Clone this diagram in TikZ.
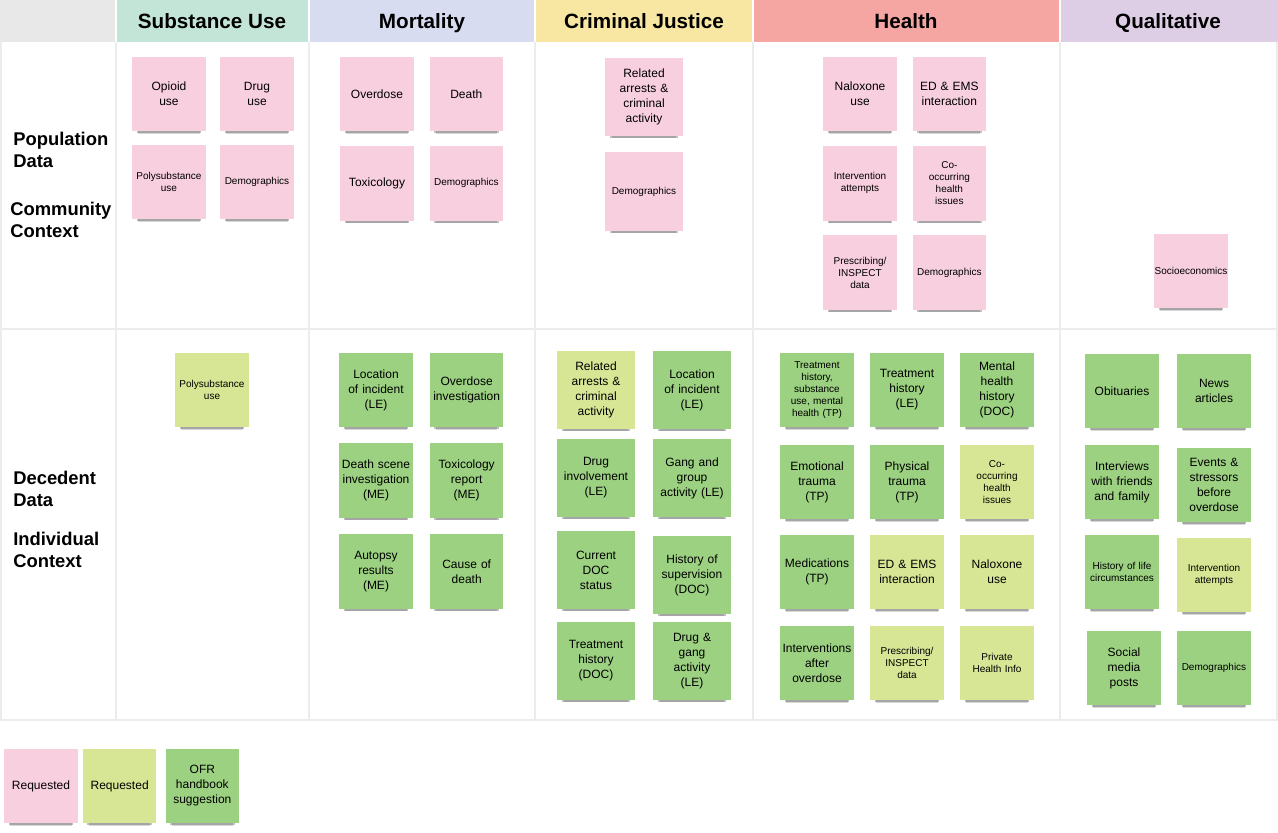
\documentclass[tikz,border=0pt]{standalone}
\usepackage{fontspec}
\setmainfont{Liberation Sans}
\usetikzlibrary{shadows}

\definecolor{notepink}{HTML}{F8CFDE}
\definecolor{notelime}{HTML}{D7E694}
\definecolor{notegreen}{HTML}{9CD181}
\definecolor{gridgray}{HTML}{ECECEC}
\definecolor{headgray}{HTML}{E8E8E8}
\definecolor{headmint}{HTML}{C3E5D8}
\definecolor{headblue}{HTML}{D7DCF0}
\definecolor{headyellow}{HTML}{F8E7A2}
\definecolor{headred}{HTML}{F5A6A3}
\definecolor{headlilac}{HTML}{DDCEE6}

\tikzset{
  note/.style={rectangle, minimum width=55pt, minimum height=56pt, text width=55pt,
    inner sep=0pt, align=center, font=\fontsize{9}{11.25}\selectfont,
    drop shadow={shadow xshift=0pt, shadow yshift=-7.5pt, shadow scale=0.84,
      fill=black!80, opacity=0.2},
    drop shadow={shadow xshift=0pt, shadow yshift=-5.5pt, shadow scale=0.88,
      fill=black!80, opacity=0.3}},
  pnote/.style={note, fill=notepink},
  lnote/.style={note, fill=notelime},
  gnote/.style={note, fill=notegreen},
  smalltext/.style={font=\fontsize{7.5}{9}\selectfont},
  bignote/.style={minimum width=58pt, minimum height=59pt, text width=58pt},
  head/.style={anchor=base, font=\bfseries\fontsize{15.5}{18}\selectfont},
  rowlabel/.style={anchor=west, align=left, inner sep=0pt,
    font=\bfseries\fontsize{13.8}{16.5}\selectfont}
}

\begin{document}
\begin{tikzpicture}[
            x = 0.75pt, y = -0.75pt, % pixel grid
            node distance = 67.5pt % distance between notes
        ]
	\useasboundingbox (0,0) rectangle (1278,832);

	% header row
	\fill[headgray] (0,0) rectangle (115,42);
	\fill[headmint] (117,0) rectangle (308,42);
	\fill[headblue] (310,0) rectangle (534,42);
	\fill[headyellow] (536,0) rectangle (752,42);
	\fill[headred] (754,0) rectangle (1059,42);
	\fill[headlilac] (1061,0) rectangle (1278,42);

	\node[head] (hsub) at (212,28) {Substance Use};
	\node[head] (hmort) at (422,28) {Mortality};
	\node[head] (hcrim) at (644,28) {Criminal Justice};
	\node[head] (hheal) at (906,28) {Health};
	\node[head] (hqual) at (1168,28) {Qualitative};

	% grid lines
	\draw[gridgray, line width=1.5pt] (1,42) -- (1,720) (1277,42) -- (1277,720);
	\foreach \x in {116,309,535,753,1060}
		\draw[gridgray, line width=1.5pt] (\x,42) -- (\x,720);
	\draw[gridgray, line width=1.5pt] (0,329) -- (1278,329) (0,720) -- (1278,720);

	% row labels
	\node[rowlabel] (popdata) at (13,150) {Population\\Data};
	\node[rowlabel] (community) at (10,220) {Community\\Context};
	\node[rowlabel] (decdata) at (13,489) {Decedent\\Data};
	\node[rowlabel] (individual) at (13,550) {Individual\\Context};

	% population data
	\begin{scope}[node distance=66pt]
	\node[pnote] (opioid) at (169,94) {Opioid\\use};
	\node[pnote] (druguse) [right of=opioid] {Drug\\use};
	\node[pnote, smalltext] (polyuse) [below of=opioid] {Polysubstance\\use};
	\node[pnote, smalltext] (sudemo) [right of=polyuse] {Demographics};
	\end{scope}

	\begin{scope}[node distance=67pt]
	\node[pnote] (overdose) at (377,94) {Overdose};
	\node[pnote] (death) [right of=overdose] {Death};
	\node[pnote] (toxicology) [below of=overdose] {Toxicology};
	\node[pnote, smalltext] (modemo) [right of=toxicology] {Demographics};
	\end{scope}

	\begin{scope}[node distance=71pt]
	\node[pnote, bignote] (arrests) at (644,97) {Related\\arrests \&\\criminal\\activity};
	\node[pnote, bignote, smalltext] (cjdemo) [below of=arrests] {Demographics};
	\end{scope}

	\begin{scope}[node distance=67pt]
	\node[pnote] (naloxone) at (860,94) {Naloxone\\use};
	\node[pnote] (edems) [right of=naloxone] {ED \& EMS\\interaction};
	\node[pnote, smalltext] (intervention) [below of=naloxone] {Intervention\\attempts};
	\node[pnote, smalltext] (cooccur) [right of=intervention] {Co-\\occurring\\health\\issues};
	\node[pnote, smalltext] (prescrib) [below of=intervention] {Prescribing/\\INSPECT\\data};
	\node[pnote, smalltext] (hedemo) [right of=prescrib] {Demographics};
	\end{scope}

	\node[pnote, smalltext] (socio) at (1191,271) {Socioeconomics};

	% decedent data
	\node[lnote, smalltext] (polydec) at (212,390) {Polysubstance\\use};

	\begin{scope}[node distance=68pt]
	\node[gnote] (locmort) at (376,390) {Location\\of incident\\(LE)};
	\node[gnote] (odinv) [right of=locmort] {Overdose\\investigation};
	\node[gnote] (scene) [below of=locmort] {Death scene\\investigation\\(ME)};
	\node[gnote] (toxrep) [right of=scene] {Toxicology\\report\\(ME)};
	\node[gnote] (autopsy) [below of=scene] {Autopsy\\results\\(ME)};
	\node[gnote] (cause) [right of=autopsy] {Cause of\\death};
	\end{scope}

	\begin{scope}[node distance=67.5pt]
	\node[lnote, bignote] (arrestsdec) at (596,390) {Related\\arrests \&\\criminal\\activity};
	\node[gnote, bignote] (loccrim) [node distance=72pt, right of=arrestsdec] {Location\\of incident\\(LE)};
	\node[gnote, bignote] (druginv) at (596,478) {Drug\\involvement\\(LE)};
	\node[gnote, bignote] (gang) [node distance=72pt, right of=druginv] {Gang and\\group\\activity (LE)};
	\node[gnote, bignote] (docstat) at (596,570) {Current\\DOC\\status};
	\node[gnote, bignote] (superv) at (692,575) {History of\\supervision\\(DOC)};
	\node[gnote, bignote] (treatdoc) at (596,661) {Treatment\\history\\(DOC)};
	\node[gnote, bignote] (druggang) [node distance=72pt, right of=treatdoc] {Drug \&\\gang\\activity\\(LE)};
	\end{scope}

	\begin{scope}[node distance=67.5pt]
	\node[gnote, smalltext] (treattp) at (817,390) {Treatment\\history,\\substance\\use, mental\\health (TP)};
	\node[gnote] (treatle) [right of=treattp] {Treatment\\history\\(LE)};
	\node[gnote] (mental) [right of=treatle] {Mental\\health\\history\\(DOC)};
	\node[gnote] (emotional) at (817,482) {Emotional\\trauma\\(TP)};
	\node[gnote] (physical) [right of=emotional] {Physical\\trauma\\(TP)};
	\node[lnote, smalltext] (cooccurdec) [right of=physical] {Co-\\occurring\\health\\issues};
	\node[gnote] (meds) at (817,572) {Medications\\(TP)};
	\node[lnote] (edemsdec) [right of=meds] {ED \& EMS\\interaction};
	\node[lnote] (naloxdec) [right of=edemsdec] {Naloxone\\use};
	\node[gnote] (afterod) at (817,663) {Interventions\\after\\overdose};
	\node[lnote, smalltext] (prescribdec) [right of=afterod] {Prescribing/\\INSPECT\\data};
	\node[lnote, smalltext] (private) [right of=prescribdec] {Private\\Health Info};
	\end{scope}

	\begin{scope}[node distance=69pt]
	\node[gnote] (obits) at (1122,391) {Obituaries};
	\node[gnote] (news) [right of=obits] {News\\articles};
	\node[gnote] (interviews) at (1122,482) {Interviews\\with friends\\and family};
	\node[gnote] (events) at (1214,485) {Events \&\\stressors\\before\\overdose};
	\node[gnote, smalltext] (lifehist) at (1122,572) {History of life\\circumstances};
	\node[lnote, smalltext] (intattempt) at (1214,575) {Intervention\\attempts};
	\node[gnote] (social) at (1124,668) {Social\\media\\posts};
	\node[gnote, smalltext] (qudemo) at (1214,668) {Demographics};
	\end{scope}

	% legend
	\node[pnote] (keypink) at (41,786) {Requested};
	\node[lnote] (keylime) [node distance=59pt, right of=keypink] {Requested};
	\node[gnote] (keygreen) [node distance=62pt, right of=keylime] {OFR\\handbook\\suggestion};

\end{tikzpicture}
\end{document}
